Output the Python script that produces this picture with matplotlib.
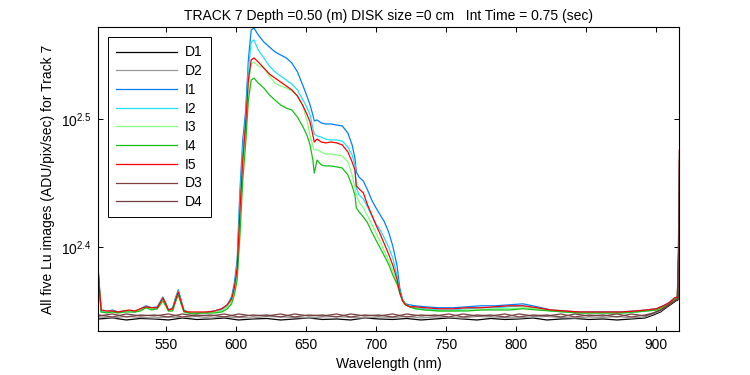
import matplotlib
matplotlib.use('Agg')
import matplotlib.pyplot as plt
from matplotlib.ticker import FixedLocator, NullLocator, FixedFormatter

plt.rcParams['font.family'] = ['Liberation Sans', 'DejaVu Sans']
plt.rcParams['mathtext.default'] = 'regular'

# wavelength grid (nm) shared by the five Lu image traces
wl = [502, 503, 504, 508, 512, 516, 520, 524, 528, 532, 536, 540, 544, 546, 548,
      550, 552, 555, 557, 559, 561, 563, 566, 570, 575, 580, 585, 590, 594, 597,
      599, 601, 603, 605, 607, 609, 611, 613, 616, 620, 624, 628, 632, 636, 640,
      644, 648, 651, 653, 655, 656, 658, 661, 664, 668, 672, 676, 680, 683, 685,
      686, 688, 691, 694, 697, 700, 703, 706, 709, 712, 715, 717, 719, 721, 724,
      728, 735, 745, 755, 765, 775, 785, 795, 805, 815, 825, 835, 845, 855, 865,
      875, 885, 893, 900, 905, 909, 913, 915, 916.4]

i1 = [239.8, 231.8, 224.0, 223.6, 224.4, 223.6, 224.0, 224.0, 223.6, 224.9, 226.1, 225.3, 225.7, 227.7, 229.7,
      227.3, 224.4, 225.3, 229.3, 232.7, 228.5, 224.4, 223.6, 223.2, 223.2, 223.6, 224.0, 224.9, 226.5, 229.7,
      235.6, 245.5, 278.5, 304.7, 320.5, 351.9, 371.4, 372.7, 368.1, 363.5, 360.2, 357.0, 355.1, 353.2, 350.0,
      344.4, 335.8, 329.2, 324.5, 318.7, 315.3, 315.9, 314.2, 313.6, 313.6, 313.0, 312.5, 308.5, 302.0, 295.0,
      287.7, 285.0, 283.0, 278.5, 273.5, 269.7, 266.3, 263.0, 258.3, 251.8, 243.3, 233.5, 228.5, 226.9, 226.5,
      226.1, 225.7, 225.3, 225.3, 225.7, 226.1, 226.1, 226.5, 226.9, 225.7, 224.4, 224.0, 223.6, 223.6, 223.6,
      223.6, 224.0, 224.4, 224.9, 226.1, 227.3, 229.3, 229.7, 258.7]

i2 = [239.0, 231.4, 223.6, 223.6, 224.0, 223.6, 223.6, 224.0, 223.6, 224.4, 225.7, 224.9, 225.3, 227.3, 229.3,
      226.9, 224.0, 224.9, 228.9, 232.2, 228.1, 224.0, 223.6, 223.2, 223.2, 223.2, 224.0, 224.4, 226.1, 228.9,
      233.9, 243.3, 273.5, 299.3, 315.9, 345.6, 363.5, 364.8, 358.3, 353.2, 348.1, 344.4, 341.9, 339.4, 337.0,
      333.4, 327.4, 322.7, 318.7, 311.3, 308.0, 306.9, 306.3, 305.2, 304.7, 304.7, 304.1, 300.9, 296.6, 291.3,
      279.5, 276.0, 274.0, 270.2, 265.8, 262.0, 259.2, 255.4, 251.3, 246.4, 239.0, 231.8, 228.1, 226.5, 225.7,
      225.3, 224.9, 224.4, 224.4, 224.9, 225.3, 225.3, 225.7, 226.1, 224.9, 224.0, 223.6, 223.2, 223.2, 223.2,
      223.2, 223.6, 224.0, 224.4, 225.7, 226.9, 228.9, 229.3, 258.3]

i3 = [238.5, 231.0, 223.6, 223.6, 223.6, 223.2, 223.6, 224.0, 223.6, 224.4, 225.3, 224.9, 224.9, 226.5, 228.5,
      226.5, 224.0, 224.4, 228.1, 231.0, 227.3, 224.0, 223.6, 223.2, 223.2, 223.2, 223.6, 224.0, 225.7, 228.1,
      232.7, 240.2, 266.3, 291.3, 310.2, 336.4, 349.4, 350.6, 348.1, 346.9, 341.9, 337.6, 335.8, 334.6, 332.8,
      329.8, 323.9, 314.7, 307.4, 301.4, 299.3, 299.3, 298.2, 297.1, 297.1, 296.6, 296.0, 292.9, 286.1, 280.0,
      276.0, 272.5, 269.7, 265.8, 262.0, 257.8, 254.0, 249.5, 245.5, 240.7, 235.6, 231.4, 228.5, 226.5, 225.7,
      224.9, 224.4, 224.0, 224.0, 224.4, 224.4, 224.9, 224.9, 225.3, 224.9, 224.0, 223.6, 223.2, 223.2, 223.2,
      223.2, 223.6, 224.0, 224.4, 225.7, 226.9, 228.9, 229.3, 258.3]

i4 = [238.1, 230.6, 223.6, 223.2, 223.6, 223.2, 223.6, 223.6, 223.6, 224.0, 225.3, 224.4, 224.9, 226.5, 228.1,
      226.1, 224.0, 224.0, 227.7, 230.6, 226.9, 223.6, 223.2, 222.8, 223.2, 223.2, 223.2, 223.6, 224.9, 226.9,
      230.6, 236.9, 256.8, 283.5, 302.0, 327.4, 339.4, 340.6, 337.6, 334.6, 330.4, 327.4, 324.5, 322.7, 321.6,
      317.5, 311.9, 306.9, 302.0, 293.9, 287.1, 293.9, 291.3, 290.8, 290.8, 290.3, 289.7, 286.1, 280.5, 276.0,
      269.7, 267.7, 265.3, 262.5, 258.3, 254.5, 250.9, 247.3, 243.7, 239.0, 235.2, 231.8, 228.5, 226.9, 225.7,
      224.9, 224.4, 224.0, 224.0, 224.0, 224.4, 224.4, 224.4, 224.9, 224.4, 224.0, 223.6, 223.2, 223.2, 223.2,
      223.2, 223.6, 224.0, 224.4, 225.7, 226.9, 228.9, 229.3, 258.3]

i5 = [240.2, 231.4, 224.4, 224.0, 224.0, 223.6, 224.0, 224.4, 224.0, 224.9, 225.7, 225.3, 225.3, 227.3, 229.3,
      226.9, 224.4, 224.9, 228.5, 231.8, 227.7, 224.0, 223.6, 223.6, 223.6, 223.6, 224.0, 224.9, 226.5, 228.9,
      233.5, 242.0, 268.7, 293.9, 313.0, 339.4, 351.9, 353.2, 350.6, 346.9, 343.1, 340.6, 338.2, 335.8, 333.4,
      329.8, 323.9, 318.7, 314.7, 307.4, 303.6, 305.2, 303.6, 303.1, 303.6, 303.1, 302.0, 298.2, 292.9, 288.7,
      280.5, 279.0, 277.0, 271.1, 266.3, 261.5, 257.3, 252.7, 248.2, 243.3, 237.2, 231.4, 228.1, 226.5, 225.7,
      225.7, 225.3, 224.9, 224.9, 225.3, 225.3, 225.7, 226.1, 226.1, 225.3, 224.4, 224.0, 223.6, 223.6, 223.6,
      223.6, 224.0, 224.4, 224.9, 226.1, 227.3, 229.3, 229.7, 258.7]

# wavelength grid (nm) for the dark frames
wl_dark = [502, 512, 522, 532, 542, 552, 562, 572, 582, 592, 602, 612, 622, 632, 642,
           652, 662, 672, 682, 692, 702, 712, 722, 732, 742, 752, 762, 772, 782, 792,
           802, 812, 822, 832, 842, 852, 862, 872, 882, 892, 898, 903, 907, 911, 914,
           915.5, 916.4]

d1 = [220.8, 221.2, 220.4, 221.0, 220.8, 220.4, 221.2, 220.6, 220.8, 221.2, 220.4, 220.8, 221.0, 220.4, 220.8,
      221.2, 220.6, 220.8, 220.4, 221.2, 220.8, 220.6, 221.0, 220.4, 220.8, 221.2, 220.8, 220.4, 221.0, 220.6,
      220.8, 221.2, 220.4, 220.8, 221.0, 220.6, 220.8, 220.4, 220.8, 221.2, 222.4, 223.6, 225.3, 226.9, 228.1,
      228.5, 256.8]
d2 = [221.6, 221.2, 221.8, 221.4, 221.2, 221.6, 221.4, 221.8, 221.2, 221.6, 221.4, 221.2, 221.8, 221.6, 221.4,
      221.2, 221.6, 221.8, 221.4, 221.2, 221.6, 221.4, 221.8, 221.2, 221.6, 221.4, 221.2, 221.8, 221.6, 221.4,
      221.2, 221.6, 221.8, 221.4, 221.2, 221.6, 221.4, 221.8, 221.2, 221.6, 222.8, 224.0, 225.7, 227.3, 228.5,
      228.9, 257.7]
d3 = [222.0, 222.8, 221.6, 222.4, 222.0, 222.8, 221.6, 222.4, 222.0, 222.8, 221.6, 222.4, 222.0, 222.8, 221.6,
      222.4, 222.0, 222.8, 221.6, 222.4, 222.0, 222.8, 221.6, 222.4, 222.0, 222.8, 221.6, 222.4, 222.0, 222.8,
      221.6, 222.4, 222.0, 222.8, 221.6, 222.4, 222.0, 222.8, 221.6, 222.4, 223.2, 224.4, 225.7, 227.3, 228.5,
      228.9, 299.3]
d4 = [222.4, 221.6, 222.8, 222.0, 222.4, 221.6, 222.8, 222.0, 222.4, 221.6, 222.8, 222.0, 222.4, 221.6, 222.8,
      222.0, 222.4, 221.6, 222.8, 222.0, 222.4, 221.6, 222.8, 222.0, 222.4, 221.6, 222.8, 222.0, 222.4, 221.6,
      222.8, 222.0, 222.4, 221.6, 222.8, 222.0, 222.4, 221.6, 222.8, 222.0, 223.2, 224.4, 225.7, 227.3, 228.5,
      228.9, 293.9]

labels = ['D1', 'D2', 'I1', 'I2', 'I3', 'I4', 'I5', 'D3', 'D4']
colors = ['#000000', '#999999', '#0080ff', '#20e0ff', '#80ff80',
          '#14c014', '#ff0000', '#804040', '#704040']

ytick_vals = [10 ** 2.4, 10 ** 2.5]
ytick_labels = ['$10^{2.4}$', '$10^{2.5}$']
xticks = [550, 600, 650, 700, 750, 800, 850, 900]

fig = plt.figure(figsize=(7.5, 3.75), dpi=100)
ax = fig.add_axes([0.131, 0.118, 0.7747, 0.8091])

series = [(wl_dark, d1), (wl_dark, d2), (wl, i1), (wl, i2), (wl, i3),
          (wl, i4), (wl, i5), (wl_dark, d3), (wl_dark, d4)]
for (x, y), lab, col in zip(series, labels, colors):
    ax.plot(x, y, color=col, lw=0.9, label=lab)

ax.set_yscale('log')
ax.set_xlim(501.9, 916.4)
ax.set_ylim(10 ** 2.3348, 10 ** 2.5719)
ax.yaxis.set_major_locator(FixedLocator(ytick_vals))
ax.yaxis.set_major_formatter(FixedFormatter(ytick_labels))
ax.yaxis.set_minor_locator(NullLocator())
ax.set_xticks(xticks)
ax.tick_params(direction='in', top=True, right=True, length=3.6, width=0.7,
               labelsize=10, pad=5)
for sp in ax.spines.values():
    sp.set_linewidth(0.8)

ax.set_title('TRACK 7 Depth =0.50 (m) DISK size =0 cm   Int Time = 0.75 (sec)',
             fontsize=10, pad=5)
ax.set_xlabel('Wavelength (nm)', fontsize=10)
ax.set_ylabel('All five Lu images (ADU/pix/sec) for Track 7', fontsize=10)

leg = ax.legend(loc='upper left', bbox_to_anchor=(0.0167, 0.968), fontsize=10,
                handlelength=4.4, handletextpad=0.55, labelspacing=0.34,
                borderaxespad=0, fancybox=False, framealpha=1, borderpad=0.6)
leg.get_frame().set_edgecolor('black')
leg.get_frame().set_linewidth(0.7)

fig.savefig('out.png', dpi=100)
